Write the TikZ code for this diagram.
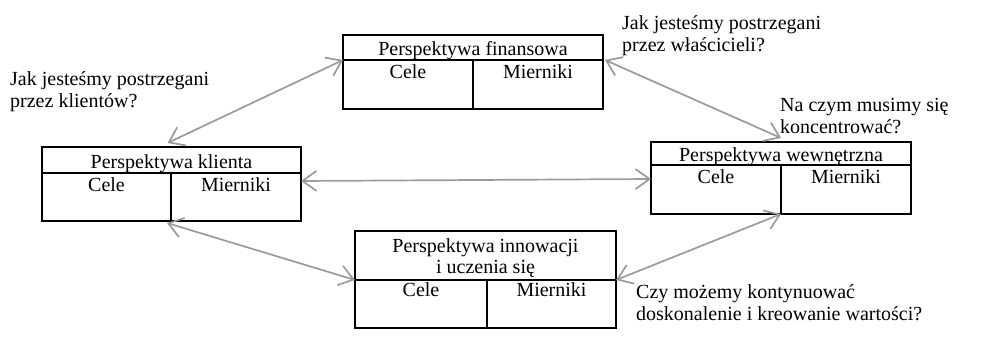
\documentclass[tikz,border=0pt]{standalone}
\usepackage{fontspec}
\setmainfont{Liberation Serif}
\usetikzlibrary{arrows.meta}
\definecolor{arrgray}{RGB}{155,155,155}
\begin{document}
\begin{tikzpicture}[x=1pt,y=-1pt,
  frame/.style={draw=black, line width=1.6pt, inner sep=0pt, outer sep=0pt, anchor=north west},
  txt/.style={inner sep=0pt, font=\fontsize{20}{22}\selectfont, anchor=base},
  qtxt/.style={inner sep=0pt, font=\fontsize{20}{22.5}\selectfont, align=left, anchor=north west},
  link/.style={draw=arrgray, line width=1.7pt, {Straight Barb[length=14pt,width=20pt]}-{Straight Barb[length=14pt,width=20pt]}}
]
\useasboundingbox (0,0) rectangle (981,350);

% Perspektywa finansowa
\node[frame, minimum width=260pt, minimum height=25pt] (fh) at (343,35) {};
\node[frame, minimum width=130pt, minimum height=49pt] (fc) at (343,60) {};
\node[frame, minimum width=130pt, minimum height=49pt] (fm) at (473,60) {};
\node[txt] (fht) at ([yshift=4pt]fh.south) {Perspektywa finansowa};
\node[txt] (fct) at ([yshift=-19pt]fc.north) {Cele};
\node[txt] (fmt) at ([yshift=-19pt]fm.north) {Mierniki};

% Perspektywa klienta
\node[frame, minimum width=259pt, minimum height=26pt] (kh) at (42,147) {};
\node[frame, minimum width=129pt, minimum height=48pt] (kc) at (42,173) {};
\node[frame, minimum width=130pt, minimum height=48pt] (km) at (171,173) {};
\node[txt] (kht) at ([yshift=5pt]kh.south) {Perspektywa klienta};
\node[txt] (kct) at ([yshift=-18pt]kc.north) {Cele};
\node[txt] (kmt) at ([yshift=-18pt]km.north) {Mierniki};

% Perspektywa wewnetrzna
\node[frame, minimum width=260pt, minimum height=23pt] (wh) at (651,142) {};
\node[frame, minimum width=130pt, minimum height=49pt] (wc) at (651,165) {};
\node[frame, minimum width=130pt, minimum height=49pt] (wm) at (781,165) {};
\node[txt] (wht) at ([yshift=4pt]wh.south) {Perspektywa wewnętrzna};
\node[txt] (wct) at ([yshift=-18pt]wc.north) {Cele};
\node[txt] (wmt) at ([yshift=-18pt]wm.north) {Mierniki};

% Perspektywa innowacji
\node[frame, minimum width=261pt, minimum height=49pt] (ih) at (355,231) {};
\node[frame, minimum width=132pt, minimum height=48pt] (ic) at (355,280) {};
\node[frame, minimum width=129pt, minimum height=48pt] (im) at (487,280) {};
\node[txt] (iht1) at ([yshift=28pt]ih.south) {Perspektywa innowacji};
\node[txt] (iht2) at ([yshift=7pt]ih.south) {i uczenia się};
\node[txt] (ict) at ([yshift=-16pt]ic.north) {Cele};
\node[txt] (imt) at ([yshift=-16pt]im.north) {Mierniki};

% questions
\node[qtxt] (q1) at (10,71) {Jak jesteśmy postrzegani\\przez klientów?};
\node[qtxt] (q2) at (622,15) {Jak jesteśmy postrzegani\\przez właścicieli?};
\node[qtxt] (q3) at (780,98) {Na czym musimy się\\koncentrować?};
\node[qtxt] (q4) at (636,284) {Czy możemy kontynuować\\doskonalenie i kreowanie wartości?};

% connectors
\draw[link] ([shift={(-4pt,4pt)}]kh.north) -- (fh.south west);
\draw[link] ([xshift=2pt]fh.south east) -- ([yshift=4pt]wh.north);
\draw[link] ([yshift=-8pt]km.north east) -- ([yshift=-14pt]wc.north west);
\draw[link] ([shift={(-4pt,-2pt)}]kc.south east) -- (ih.south west);
\draw[link] (wc.south east) -- (ih.south east);
\end{tikzpicture}
\end{document}
